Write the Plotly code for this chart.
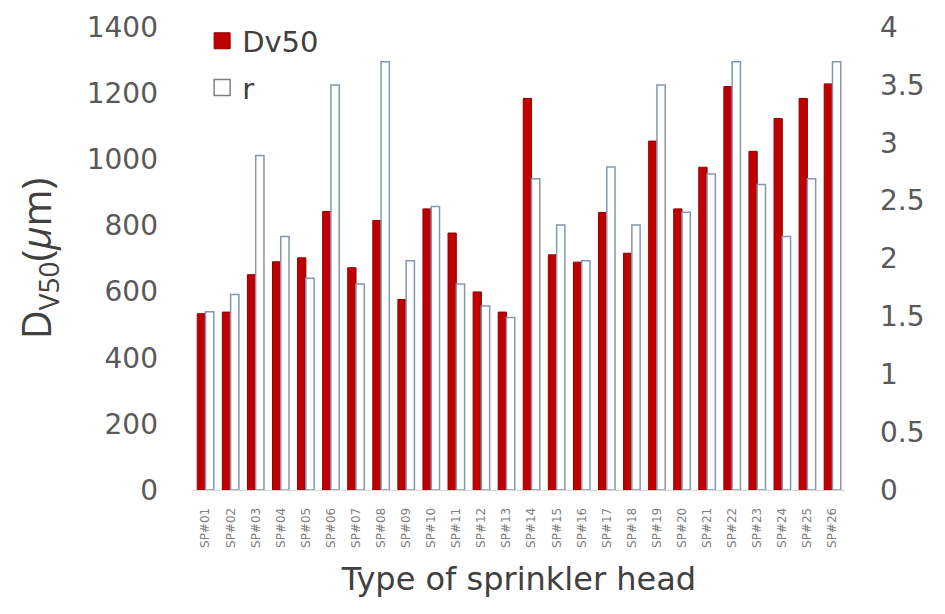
import plotly.graph_objects as go

categories = ["SP#%02d" % i for i in range(1, 27)]
dv50 = [533, 538, 651, 690, 702, 842, 672, 815, 576, 850, 777, 599, 538,
        1184, 711, 689, 839, 716, 1055, 850, 976, 1220, 1024, 1123, 1184, 1228]
r_vals = [1.54, 1.69, 2.89, 2.19, 1.83, 3.50, 1.78, 3.70, 1.98, 2.45, 1.78, 1.59, 1.49,
          2.69, 2.29, 1.98, 2.79, 2.29, 3.50, 2.40, 2.73, 3.70, 2.64, 2.19, 2.69, 3.70]
left_ticks = [0, 200, 400, 600, 800, 1000, 1200, 1400]
right_ticks = [0, 0.5, 1, 1.5, 2, 2.5, 3, 3.5, 4]

FONT = "DejaVu Sans"
TITLE_FONT = "Open Sans"
GRAY = "#595959"
RED = "#c00000"
RED_EDGE = "#8b0000"
BLUE_EDGE = "#8497b0"

fig = go.Figure()
fig.add_trace(go.Bar(
    x=categories, y=dv50, name="Dv50", offsetgroup="a", yaxis="y", showlegend=False,
    marker=dict(color=RED, line=dict(color=RED_EDGE, width=1)),
))
fig.add_trace(go.Bar(
    x=categories, y=r_vals, name="r", offsetgroup="b", yaxis="y2", showlegend=False,
    marker=dict(color="white", line=dict(color=BLUE_EDGE, width=1.5)),
))
# legend entries (larger square swatches)
fig.add_trace(go.Scatter(
    x=[None], y=[None], mode="markers", name="Dv50", legendgroup="g1",
    marker=dict(symbol="square", size=20, color=RED, line=dict(color=RED_EDGE, width=1)),
))
fig.add_trace(go.Scatter(
    x=[None], y=[None], mode="markers", name="r", legendgroup="g2",
    marker=dict(symbol="square", size=20, color="white", line=dict(color="#7f7f7f", width=1.5)),
))

fig.update_layout(
    width=945, height=614,
    margin=dict(l=185, r=108, t=19, b=132, autoexpand=False),
    plot_bgcolor="white", paper_bgcolor="white",
    barmode="group", bargap=0.34, bargroupgap=0,
    font=dict(family=FONT, color=GRAY),
    legend=dict(x=0.014, y=1.025, xanchor="left", yanchor="top",
                font=dict(size=29, color="#404040", family=FONT),
                bgcolor="rgba(0,0,0,0)", itemsizing="trace", tracegroupgap=6),
    xaxis=dict(
        type="category", tickangle=-90, tickfont=dict(size=12, color="#808080"),
        showgrid=False, showline=True, linecolor="#d9d9d9", linewidth=1,
        ticks="", ticklabelstandoff=12, automargin=False,
        title=dict(text="Type of sprinkler head", font=dict(size=32, color="#404040"),
                   standoff=20),
    ),
    yaxis=dict(
        range=[0, 1400], tickvals=left_ticks, showgrid=False, zeroline=False,
        tickfont=dict(size=28, color=GRAY), ticks="", ticklabelstandoff=34,
        automargin=False, ticklabeloverflow="allow",
        title=dict(text="D<sub>V50</sub>(<i>μ</i>m)",
                   font=dict(size=40, color="#404040", family=TITLE_FONT),
                   standoff=42),
    ),
    yaxis2=dict(
        range=[0, 4], tickvals=right_ticks, overlaying="y", side="right",
        showgrid=False, zeroline=False, tickfont=dict(size=28, color=GRAY),
        ticks="", ticklabelstandoff=34, automargin=False, ticklabeloverflow="allow",
    ),
)

fig.write_html("out.html")
